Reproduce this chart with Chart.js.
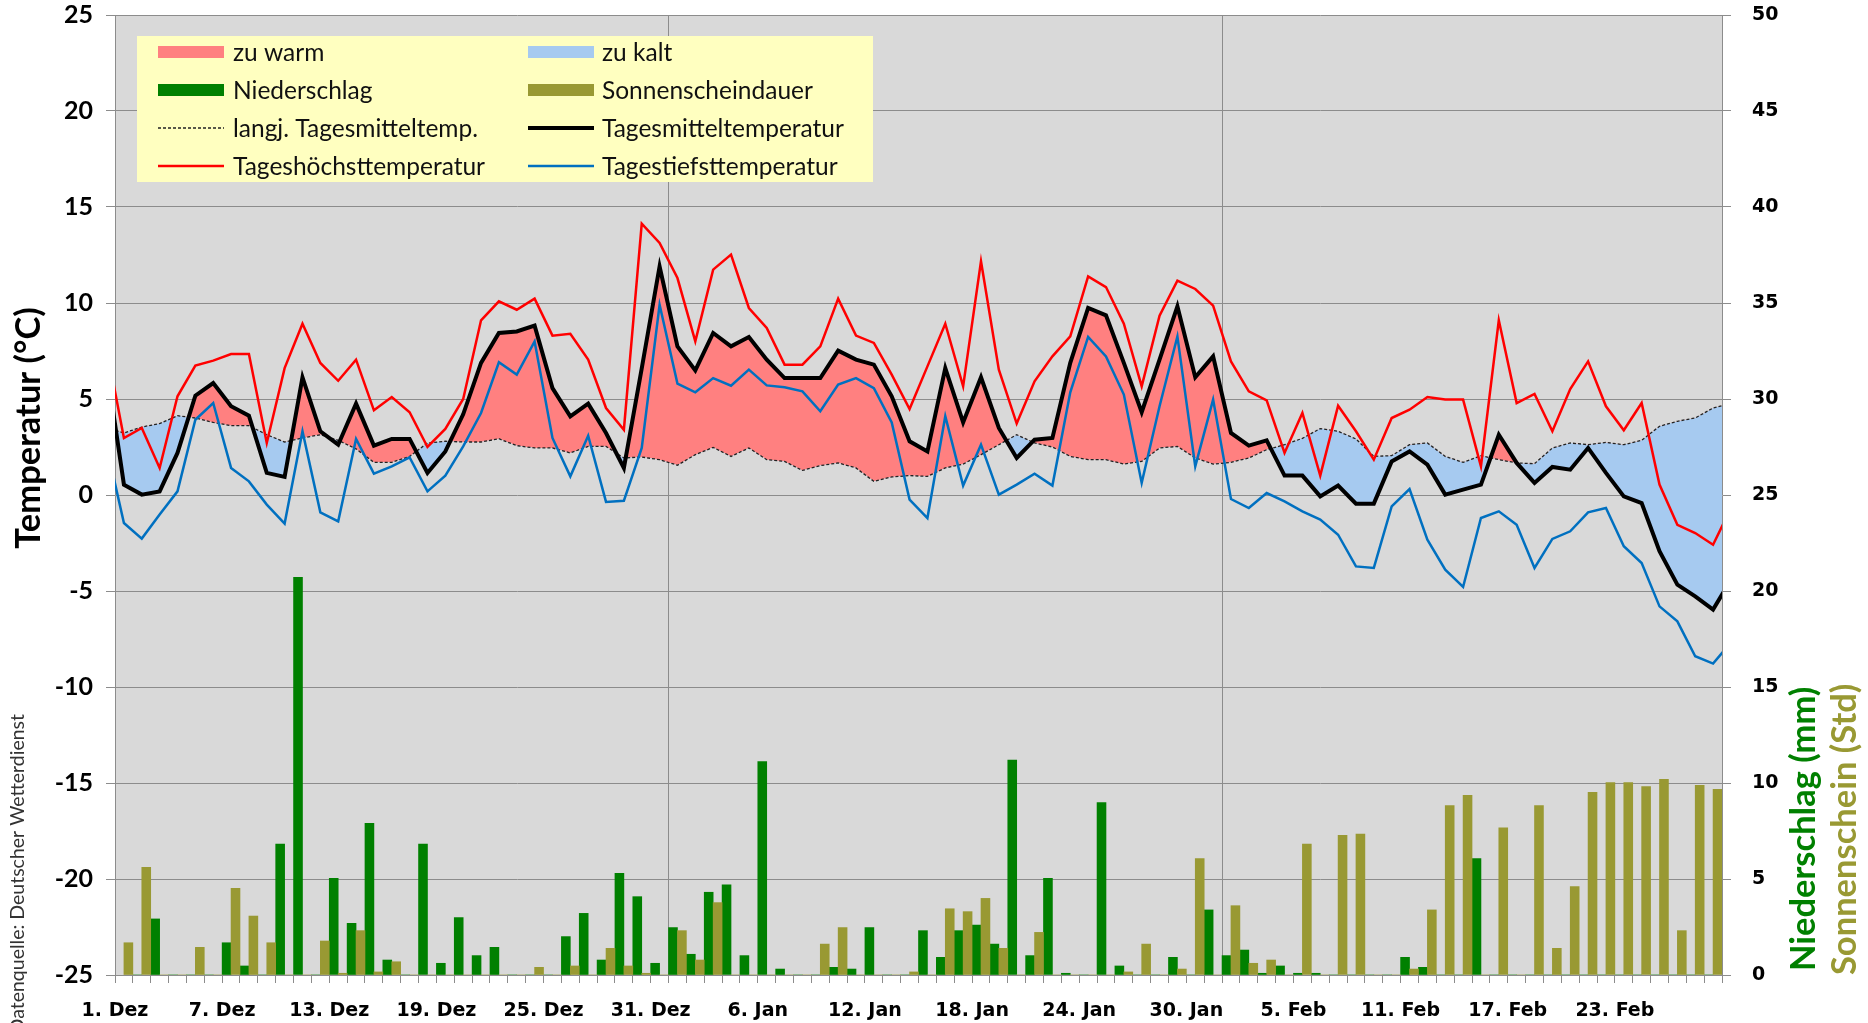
<!DOCTYPE html>
<html><head><meta charset="utf-8">
<script src="https://cdn.jsdelivr.net/npm/chart.js@4.4.1/dist/chart.umd.min.js"></script>
<style>html,body{margin:0;padding:0;background:#fff;}#wrap{width:1868px;height:1023px;}</style>
</head><body><div id="wrap"><canvas id="c" width="1868" height="1023"></canvas></div>
<script>
// ---- data (1. Dez .. 28. Feb, 90 days) ----
const dateLabels = ['1. Dez','7. Dez','13. Dez','19. Dez','25. Dez','31. Dez','6. Jan','12. Jan','18. Jan','24. Jan','30. Jan','5. Feb','11. Feb','17. Feb','23. Feb'];
const labelStep = 6;
const dayCount = 90;
const monthStarts = [31, 62];

const tMean = [0.54,0.02,0.19,2.19,5.17,5.83,4.62,4.13,1.15,0.94,6.13,3.32,2.62,4.76,2.57,2.92,2.92,1.15,2.27,4.2,
  6.88,8.44,8.52,8.82,5.57,4.10,4.76,3.23,1.41,6.6,11.9,7.74,6.49,8.44,7.74,8.23,7.05,6.09,6.09,6.09,
  7.52,7.05,6.79,5.14,2.80,2.27,6.61,3.78,6.13,3.49,1.93,2.88,2.97,6.88,9.74,9.36,6.88,4.31,7.05,9.83,
  6.13,7.22,3.23,2.57,2.85,1.01,1.01,-0.07,0.49,-0.45,-0.45,1.75,2.27,1.58,0.02,0.28,0.54,3.14,1.67,0.63,
  1.46,1.32,2.45,1.15,-0.07,-0.42,-2.93,-4.67,-5.28,-5.97];
const tMax = [2.97,3.49,1.41,5.14,6.74,7.0,7.34,7.34,2.71,6.61,8.92,6.88,5.95,7.05,4.41,5.10,4.31,2.50,3.44,5.0,
  9.10,10.09,9.65,10.23,8.30,8.40,7.05,4.53,3.40,14.13,13.13,11.30,8.0,11.74,12.52,9.74,8.70,6.79,6.79,7.74,
  10.23,8.30,7.92,6.27,4.48,6.70,8.92,5.66,12.17,6.53,3.72,5.92,7.22,8.26,11.39,10.83,8.92,5.66,9.34,11.16,
  10.73,9.86,6.96,5.40,4.93,2.19,4.27,1.01,4.65,3.32,1.84,4.01,4.44,5.10,4.97,4.97,1.49,9.10,4.79,5.26,
  3.32,5.52,6.96,4.62,3.37,4.79,0.54,-1.55,-1.98,-2.59];
const tMin = [-1.46,-2.27,-1.02,0.19,3.92,4.79,1.41,0.71,-0.50,-1.49,3.32,-0.90,-1.37,2.92,1.11,1.49,1.96,0.19,1.01,2.53,
  4.27,6.91,6.27,8.0,2.97,0.97,3.09,-0.36,-0.30,2.45,9.91,5.80,5.35,6.09,5.69,6.53,5.71,5.61,5.40,4.36,
  5.75,6.09,5.57,3.78,-0.24,-1.20,4.10,0.49,2.62,0.02,0.54,1.11,0.49,5.35,8.23,7.22,5.23,0.63,4.62,8.26,
  1.49,4.97,-0.21,-0.68,0.10,-0.33,-0.85,-1.28,-2.07,-3.72,-3.80,-0.59,0.31,-2.33,-3.89,-4.79,-1.20,-0.85,-1.55,-3.80,
  -2.29,-1.89,-0.90,-0.68,-2.67,-3.54,-5.80,-6.58,-8.40,-8.78];
const tNorm = [3.23,3.54,3.72,4.13,4.01,3.78,3.61,3.61,3.14,2.76,2.97,3.14,2.85,2.40,1.70,1.70,2.01,2.71,2.80,2.76,
  2.76,2.93,2.57,2.45,2.45,2.19,2.53,2.53,1.93,1.98,1.84,1.55,2.10,2.48,2.01,2.45,1.84,1.75,1.28,1.53,
  1.67,1.41,0.71,0.94,1.01,0.97,1.41,1.61,2.10,2.62,3.14,2.71,2.50,2.01,1.84,1.84,1.61,1.75,2.45,2.53,
  1.93,1.61,1.70,1.93,2.36,2.62,2.95,3.46,3.32,2.92,2.01,2.05,2.62,2.71,2.01,1.70,2.05,1.84,1.67,1.63,
  2.45,2.71,2.62,2.74,2.62,2.85,3.58,3.84,4.01,4.53];
// values of the neighbouring days (30. Nov / 1. Mrz), only visible as clipped line ends
const edgeMean = [6.86, -4.41];
const edgeMax  = [7.83, -0.67];
const edgeMin  = [2.66, -7.68];
const edgeNorm = [3.51, 4.77];

const precip = [0,2.92,0,0,0,1.68,0.47,0,6.82,20.71,0,5.03,2.69,7.90,0.78,0,6.82,0.61,2.99,1.01,
  1.44,0,0,0,2.0,3.21,0.78,5.30,4.08,0.61,2.47,1.08,4.31,4.69,1.01,11.11,0.31,0,0,0.40,
  0.31,2.47,0,0,2.31,0.92,2.31,2.60,1.61,11.20,1.01,5.03,0.09,0,8.98,0.47,0,0,0.92,0,
  3.39,1.01,1.30,0.09,0.47,0.09,0.09,0,0,0,0,0.92,0.40,0,0,6.06,0,0,0,0,
  0,0,0,0,0,0,0,0,0,0];
const sunshine = [1.68,5.61,0,0,1.44,0,4.51,3.07,1.68,0,0,1.77,0.09,2.31,0.16,0.69,0,0,0,0,
  0,0,0,0.40,0,0.47,0,1.39,0.47,0.09,0,2.31,0.78,3.77,0,0,0,0,0,1.61,
  2.47,0,0,0,0.16,0,3.45,3.30,3.99,1.39,0,2.22,0,0,0,0,0.16,1.61,0,0.31,
  6.06,0,3.61,0.61,0.78,0,6.82,0,7.27,7.34,0,0,0.31,3.39,8.82,9.36,0,7.67,0,8.82,
  1.39,4.60,9.51,10.02,10.02,9.81,10.19,2.31,9.88,9.67];

// ---- styles ----
const gridColor = '#8c8c8c';
const cWarm = '#ff8080', cCold = '#a6caf0', cRain = '#008000', cSun = '#999933';
const cMax = '#ff0000', cMin = '#0070c0';

function linePoints(arr, edge) {
  const pts = [{x: -0.5, y: edge[0]}];
  arr.forEach((v, i) => pts.push({x: i + 0.5, y: v}));
  pts.push({x: dayCount + 0.5, y: edge[1]});
  return pts;
}
function barPoints(arr) { return arr.map((v, i) => ({x: i + 1, y: v})); }

const bgPlugin = {
  id: 'bg',
  beforeDraw(chart) {
    const {ctx, chartArea: a} = chart;
    ctx.save();
    ctx.fillStyle = '#ffffff';
    ctx.fillRect(0, 0, chart.width, chart.height);
    ctx.fillStyle = '#d9d9d9';
    ctx.fillRect(a.left, a.top, a.right - a.left, a.bottom - a.top);
    ctx.restore();
  }
};

const legendItems = [
  {label: 'zu warm', box: cWarm}, {label: 'zu kalt', box: cCold},
  {label: 'Niederschlag', box: cRain}, {label: 'Sonnenscheindauer', box: cSun},
  {label: 'langj. Tagesmitteltemp.', line: '#222', w: 1.3, dash: [3, 2]}, {label: 'Tagesmitteltemperatur', line: '#000', w: 4},
  {label: 'Tageshöchsttemperatur', line: cMax, w: 2.5}, {label: 'Tagestiefsttemperatur', line: cMin, w: 2.5}
];

const textPlugin = {
  id: 'texts',
  afterDraw(chart) {
    const ctx = chart.ctx;
    ctx.save();
    // legend box
    ctx.fillStyle = '#ffffc0';
    ctx.fillRect(137, 36, 736, 146);
    const colX = [158, 528], txtX = [233, 602];
    ctx.font = '24.5px Lato';
    ctx.textBaseline = 'middle';
    ctx.textAlign = 'left';
    legendItems.forEach((it, i) => {
      const col = i % 2, row = Math.floor(i / 2);
      const y = 52 + row * 38;
      if (it.box) {
        ctx.fillStyle = it.box;
        ctx.fillRect(colX[col], y - 6, 66, 12);
      } else {
        ctx.strokeStyle = it.line;
        ctx.lineWidth = it.w;
        ctx.setLineDash(it.dash || []);
        ctx.beginPath(); ctx.moveTo(colX[col], y); ctx.lineTo(colX[col] + 66, y); ctx.stroke();
        ctx.setLineDash([]);
      }
      ctx.fillStyle = '#111';
      ctx.fillText(it.label, txtX[col], y + 1);
    });
    // axis titles
    function vtext(str, x, y, align, font, color) {
      ctx.save();
      ctx.translate(x, y);
      ctx.rotate(-Math.PI / 2);
      ctx.font = font; ctx.fillStyle = color; ctx.textAlign = align; ctx.textBaseline = 'middle';
      ctx.fillText(str, 0, 0);
      ctx.restore();
    }
    vtext('Temperatur (°C)', 29, 428, 'center', 'bold 34.5px Lato', '#000');
    vtext('Niederschlag (mm)', 1804, 971, 'left', 'bold 34.5px Lato', cRain);
    vtext('Sonnenschein (Std)', 1845, 975, 'left', 'bold 34.5px Lato', cSun);
    vtext('Datenquelle: Deutscher Wetterdienst', 18, 714, 'right', '19.5px Lato', '#333');
    ctx.restore();
  }
};

new Chart(document.getElementById('c'), {
  type: 'bar',
  data: {
    datasets: [
      {type: 'bar', label: 'Sonnenscheindauer', data: barPoints(sunshine), backgroundColor: cSun, yAxisID: 'y2', xAxisID: 'x',
        categoryPercentage: 1, barPercentage: 1, order: 20},
      {type: 'bar', label: 'Niederschlag', data: barPoints(precip), backgroundColor: cRain, yAxisID: 'y2', xAxisID: 'x',
        categoryPercentage: 1, barPercentage: 1, order: 20},
      {type: 'line', label: 'langj. Tagesmitteltemp.', data: linePoints(tNorm, edgeNorm), borderColor: '#222', borderWidth: 1.3,
        borderDash: [3, 2], pointRadius: 0, fill: false, tension: 0, yAxisID: 'y', xAxisID: 'x', order: 4},
      {type: 'line', label: 'Tagesmitteltemperatur', data: linePoints(tMean, edgeMean), borderColor: '#000', borderWidth: 4,
        pointRadius: 0, tension: 0, yAxisID: 'y', xAxisID: 'x', order: 1,
        fill: {target: 2, above: cWarm, below: cCold}},
      {type: 'line', label: 'Tageshöchsttemperatur', data: linePoints(tMax, edgeMax), borderColor: cMax, borderWidth: 2.5,
        pointRadius: 0, tension: 0, fill: false, yAxisID: 'y', xAxisID: 'x', order: 3},
      {type: 'line', label: 'Tagestiefsttemperatur', data: linePoints(tMin, edgeMin), borderColor: cMin, borderWidth: 2.5,
        pointRadius: 0, tension: 0, fill: false, yAxisID: 'y', xAxisID: 'x', order: 2}
    ]
  },
  options: {
    responsive: false,
    animation: false,
    devicePixelRatio: 1,
    layout: {padding: 0},
    plugins: {
      legend: {display: false},
      tooltip: {enabled: false},
      filler: {drawTime: 'beforeDatasetsDraw'}
    },
    scales: {
      x: {
        type: 'linear', position: 'bottom', min: 0, max: dayCount, offset: false,
        afterBuildTicks: s => { s.ticks = Array.from({length: dayCount + 1}, (_, k) => ({value: k})); },
        afterFit: s => { s.height = 48; },
        grid: {offset: false, lineWidth: 1, tickLength: 8, tickColor: gridColor,
          color: c => (c.tick && monthStarts.includes(c.tick.value)) ? gridColor : 'rgba(0,0,0,0)'},
        border: {color: gridColor, width: 1},
        ticks: {autoSkip: false, maxRotation: 0, minRotation: 0, padding: 17, color: '#000',
          font: {family: 'DejaVu Sans', weight: 'bold', size: 19},
          callback: v => (v % labelStep === 0 && dateLabels[v / labelStep] !== undefined) ? dateLabels[v / labelStep] : ''}
      },
      y: {
        type: 'linear', position: 'left', min: -25, max: 25,
        afterFit: s => { s.width = 115; s.paddingTop = 15; s.paddingBottom = 0; },
        grid: {color: gridColor, lineWidth: 1, tickLength: 9, tickColor: gridColor},
        border: {color: gridColor, width: 1},
        ticks: {stepSize: 5, padding: 13, color: '#000', font: {family: 'Lato', weight: 'bold', size: 25}}
      },
      y2: {
        type: 'linear', position: 'right', min: 0, max: 50,
        afterFit: s => { s.width = 146; s.paddingTop = 15; s.paddingBottom = 0; },
        grid: {drawOnChartArea: false, color: gridColor, tickLength: 9, tickColor: gridColor},
        border: {color: gridColor, width: 1},
        ticks: {stepSize: 5, padding: 21, color: '#000', font: {family: 'DejaVu Sans', weight: 'bold', size: 19}}
      }
    }
  },
  plugins: [bgPlugin, textPlugin]
});
</script></body></html>
